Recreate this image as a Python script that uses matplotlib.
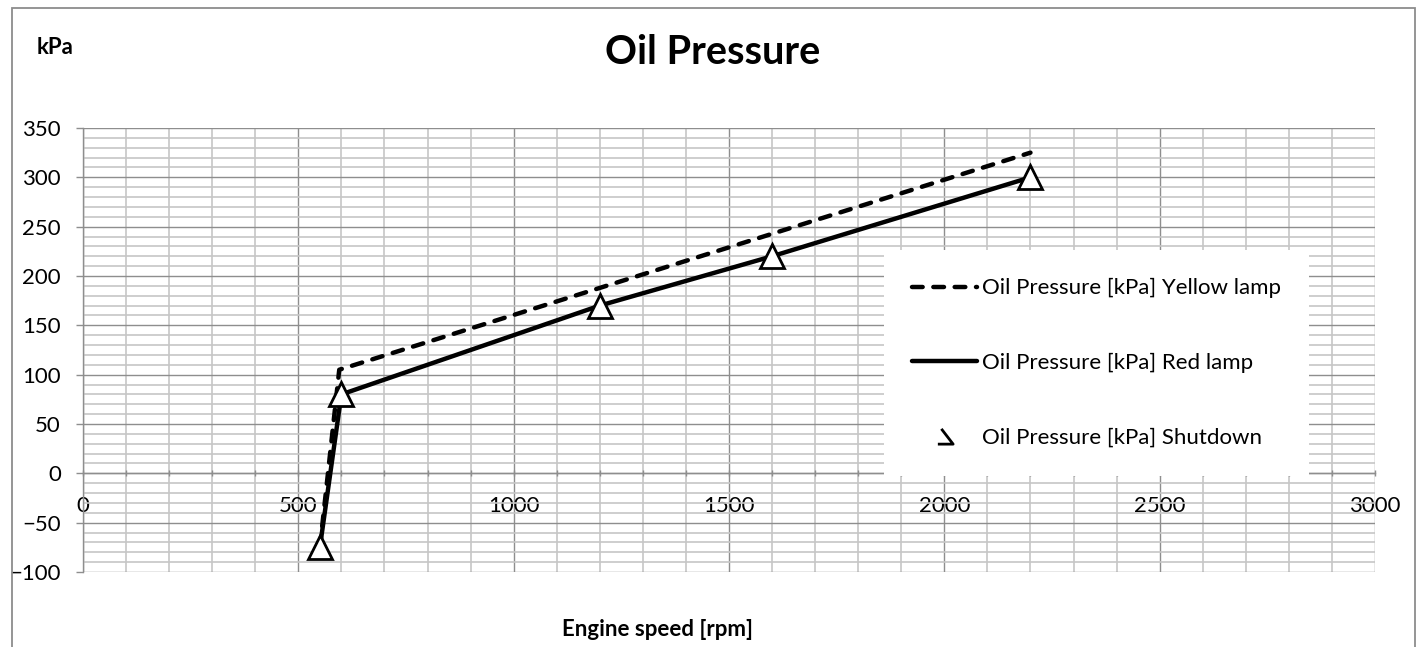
import numpy as np
import matplotlib
matplotlib.use("Agg")
import matplotlib.pyplot as plt
from matplotlib.path import Path
from matplotlib.lines import Line2D
from matplotlib.patches import Rectangle
from matplotlib.ticker import MultipleLocator

plt.rcParams["font.family"] = ["Lato", "DejaVu Sans"]

# data
yellow_rpm = [550, 595, 2200]
yellow_kpa = [-75, 105, 325]
red_rpm = [550, 600, 1200, 1600, 2200]
red_kpa = [-75, 80, 170, 220, 300]
shutdown_rpm = [550, 600, 1200, 1600, 2200]
shutdown_kpa = [-75, 80, 170, 220, 300]

labels = ["Oil Pressure [kPa] Yellow lamp",
          "Oil Pressure [kPa] Red lamp",
          "Oil Pressure [kPa] Shutdown"]

W, H = 1423, 647
fig = plt.figure(figsize=(W / 100, H / 100), dpi=100)

# outer chart frame
fig.patches.append(Rectangle((12 / W, -0.1), (1415 - 12) / W, 1.1 - 8 / H,
                             transform=fig.transFigure, fill=False,
                             edgecolor="#8c8c8c", linewidth=1.3))

ax = fig.add_axes([83 / W, (H - 572) / H, (1375 - 83) / W, (572 - 128) / H])
ax.set_xlim(0, 3000)
ax.set_ylim(-100, 350)

ax.xaxis.set_major_locator(MultipleLocator(500))
ax.xaxis.set_minor_locator(MultipleLocator(100))
ax.yaxis.set_major_locator(MultipleLocator(50))
ax.yaxis.set_minor_locator(MultipleLocator(10))

ax.grid(which="minor", color="#c6c6c6", linewidth=1.2, zorder=0)
ax.grid(which="major", color="#8e8e8e", linewidth=1.0, zorder=0)
ax.set_axisbelow(True)

for s in ["top", "right"]:
    ax.spines[s].set_visible(False)
ax.spines["left"].set_color("#8e8e8e")
ax.spines["bottom"].set_color("#8e8e8e")
ax.spines["bottom"].set_position(("data", 0))
ax.spines["left"].set_linewidth(1.0)
ax.spines["bottom"].set_linewidth(1.0)

ax.tick_params(axis="x", which="major", length=5, width=1, color="#8e8e8e",
               direction="inout", pad=14, labelsize=16)
ax.tick_params(axis="x", which="minor", length=5, width=1, color="#8e8e8e",
               direction="inout")
ax.tick_params(axis="y", which="major", length=5, width=1, color="#8e8e8e",
               direction="out", pad=11, labelsize=16)
ax.tick_params(axis="y", which="minor", length=0)

yl, = ax.plot(yellow_rpm, yellow_kpa, color="black", linewidth=3.2,
              linestyle=(0, (2.4, 2.4)), dash_capstyle="round",
              solid_joinstyle="round", dash_joinstyle="round", zorder=3)
rl, = ax.plot(red_rpm, red_kpa, color="black", linewidth=3.2,
              solid_capstyle="round", solid_joinstyle="round", zorder=3)
ax.plot(shutdown_rpm, shutdown_kpa, linestyle="none", marker="^",
        markersize=17, markerfacecolor="white", markeredgecolor="black",
        markeredgewidth=2, zorder=4)

# Excel draws the legend marker clipped; mimic that glyph
glyph = Path([(-0.27, 0.5), (0.5, -0.5), (-0.5, -0.5)],
             [Path.MOVETO, Path.LINETO, Path.LINETO])
sh = Line2D([], [], linestyle="none", marker=glyph, markersize=11,
            markerfacecolor="none", markeredgecolor="black",
            markeredgewidth=2)

leg = ax.legend([yl, rl, sh], labels, loc="upper left",
                bbox_to_anchor=(884 / W, (H - 250) / H),
                bbox_transform=fig.transFigure, borderaxespad=0,
                frameon=True, fancybox=False, framealpha=1,
                facecolor="white", edgecolor="none", fontsize=16,
                handlelength=2.93, handletextpad=0.22, labelspacing=2.45,
                borderpad=1.27)
leg.set_zorder(5)

fig.text(713 / W, 1 - 53 / H, "Oil Pressure", ha="center", va="center",
         fontsize=28.5, fontweight="bold")
fig.text(55 / W, 1 - 48 / H, "kPa", ha="center", va="center",
         fontsize=16, fontweight="bold")
fig.text(657 / W, 1 - 630 / H, "Engine speed [rpm]", ha="center",
         va="center", fontsize=16, fontweight="bold")

fig.savefig("out.png", dpi=100)
